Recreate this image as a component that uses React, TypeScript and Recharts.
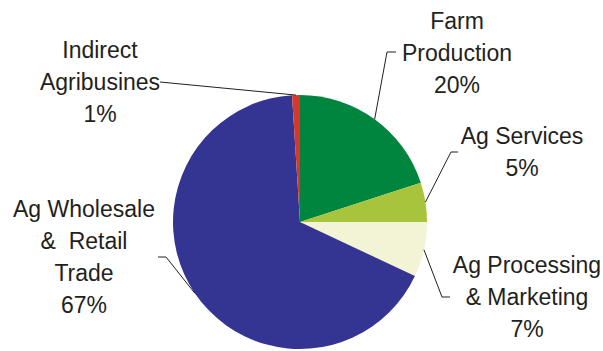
import React from 'react';
import { PieChart, Pie, Cell } from 'recharts';

const categories = [
  'Farm Production',
  'Ag Services',
  'Ag Processing & Marketing',
  'Ag Wholesale & Retail Trade',
  'Indirect Agribusines',
];
const shares = [20, 5, 7, 67, 1];
const labelLines = [
  ['Farm', 'Production'],
  ['Ag Services'],
  ['Ag Processing', '& Marketing'],
  ['Ag Wholesale', '&  Retail', 'Trade'],
  ['Indirect', 'Agribusines'],
];
const colors = ['#00853f', '#a7c43c', '#f3f3d5', '#343592', '#d6392b'];

// layout of callouts (elbow point, end point, text centre x, first baseline)
const labelLayout = [
  { elbow: [387, 52], end: [396, 52], tx: 457, ty: 29 },
  { elbow: [451, 152], end: [458, 152], tx: 522, ty: 144 },
  { elbow: [442, 297], end: [450, 297], tx: 527, ty: 273 },
  { elbow: [166, 257], end: [158, 257], tx: 84, ty: 217 },
  { elbow: [160, 82], end: [160, 82], tx: 100, ty: 58 },
];

const data = categories.map((name, i) => ({ name, value: shares[i] }));

const RADIAN = Math.PI / 180;
const LINE_H = 32;

const renderLabel = (props: any) => {
  const { cx, cy, midAngle, outerRadius, index, value } = props;
  const lay = labelLayout[index];
  const sx = cx + outerRadius * Math.cos(-midAngle * RADIAN);
  const sy = cy + outerRadius * Math.sin(-midAngle * RADIAN);
  const lines = [...labelLines[index], `${value}%`];
  return (
    <g>
      <polyline
        points={`${sx},${sy} ${lay.elbow[0]},${lay.elbow[1]} ${lay.end[0]},${lay.end[1]}`}
        fill="none"
        stroke="#231f20"
        strokeWidth={1}
      />
      <text
        x={lay.tx}
        y={lay.ty}
        textAnchor="middle"
        fill="#231f20"
        fontSize={23}
        fontFamily="'Liberation Sans', Arial, sans-serif"
        style={{ whiteSpace: 'pre' }}
      >
        {lines.map((l, k) => (
          <tspan key={k} x={lay.tx} y={lay.ty + k * LINE_H}>
            {l}
          </tspan>
        ))}
      </text>
    </g>
  );
};

export default function App() {
  return (
    <div style={{ position: 'absolute', left: 0, top: 0, background: '#fff' }}>
      <PieChart width={603} height={351} margin={{ top: 0, right: 0, bottom: 0, left: 0 }}>
        <Pie
          data={data}
          dataKey="value"
          nameKey="name"
          cx={300}
          cy={222}
          outerRadius={127}
          startAngle={90}
          endAngle={-270}
          stroke="none"
          label={renderLabel}
          labelLine={false}
          isAnimationActive={false}
        >
          {data.map((d, i) => (
            <Cell key={d.name} fill={colors[i]} />
          ))}
        </Pie>
      </PieChart>
    </div>
  );
}
